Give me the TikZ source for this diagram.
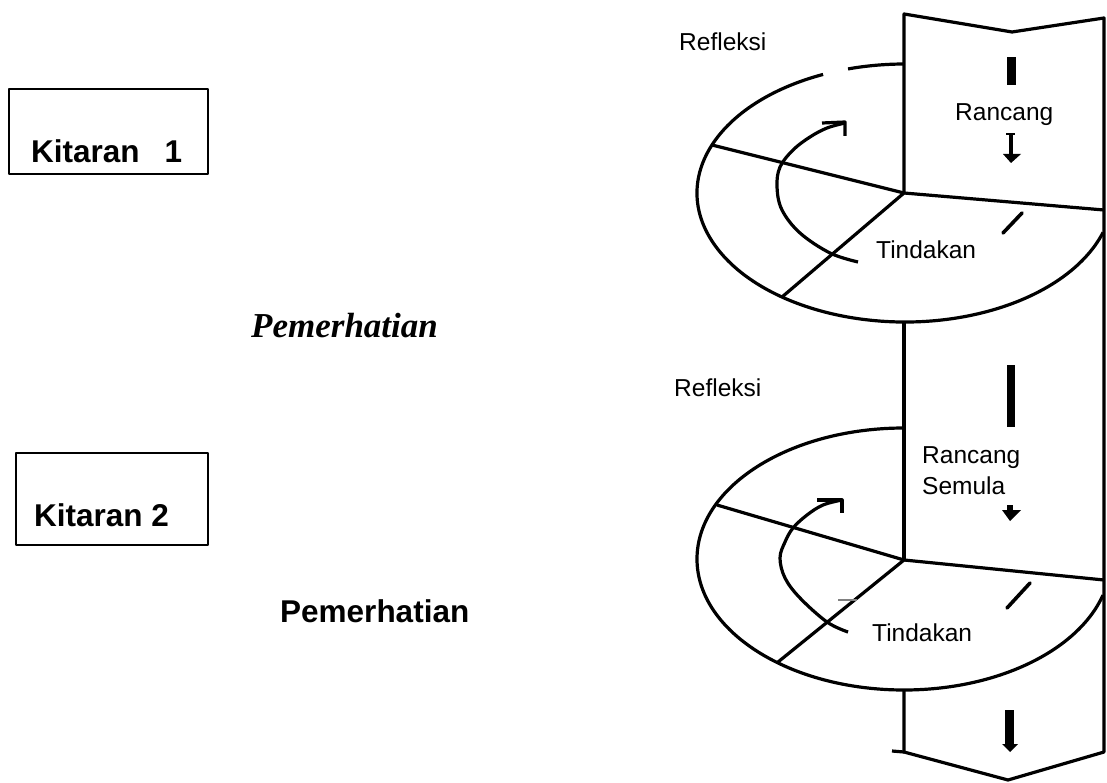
\documentclass[tikz,border=0pt]{standalone}
\usepackage{fontspec}
\setmainfont{Liberation Sans}
\newfontfamily\pemserif{Liberation Serif}
\begin{document}
\begin{tikzpicture}[x=1pt,y=-1pt,line join=round,
  edge/.style={line width=3.2pt},
  lbl/.style={inner sep=0pt,anchor=base west,font=\fontsize{24.5}{28}\selectfont},
  big/.style={inner sep=0pt,anchor=base west,font=\fontsize{31.5}{36}\selectfont\bfseries},
  boxst/.style={draw,line width=1.9pt,inner sep=0pt},
  bar/.style={fill=black}]
\useasboundingbox (0,0) rectangle (1107,783);
% left boxes and texts
\node[boxst,minimum width=199pt,minimum height=85pt] (box1) at (108.5,131.5) {};
\node[boxst,minimum width=192pt,minimum height=92pt] (box2) at (112,499) {};
\node[big] (kit1) at (31,163) {Kitaran\hspace{25pt}1};
\node[big] (kit2) at (34,526) {Kitaran 2};
\node[inner sep=0pt,anchor=base west,font=\pemserif\fontsize{35}{40}\selectfont\bfseries\itshape] (pem1) at (251,337) {Pemerhatian};
\node[big] (pem2) at (280,622) {Pemerhatian};
% labels
\node[lbl] (ref1) at (679,51) {Refleksi};
\node[lbl] (ran1) at (955,121) {Rancang};
\node[lbl] (tin1) at (876,259) {Tindakan};
\node[lbl] (ref2) at (674,396) {Refleksi};
\node[lbl] (ran2) at (922,463) {Rancang};
\node[lbl] (sem2) at (922,494) {Semula};
\node[lbl] (tin2) at (872,641) {Tindakan};
% centres
\coordinate (o1) at (904,193);
\coordinate (o2) at (904,560);
% band outline
\draw[edge] (o1) -- (904,14) -- (1012,32) -- (1104,18) -- (1104,752) -- (1008,780) -- (904,752) -- (904,690);
\draw[edge] (892,751) -- (904,752);
\draw[edge] (904,322) -- (o2);
% ellipse 1
\draw[edge] (905,193) ++(113.2:208pt and 129pt) arc[start angle=113.2,end angle=342.2,x radius=208pt,y radius=129pt];
\draw[edge] (905,193) ++(90.3:208pt and 129pt) arc[start angle=90.3,end angle=105.9,x radius=208pt,y radius=129pt];
\draw[edge] (712,145) -- (o1) -- (1104,210);
\draw[edge] (o1) -- (782,297);
% ellipse 2
\draw[edge] (904,559) ++(90:207pt and 131pt) arc[start angle=90,end angle=344,x radius=207pt,y radius=131pt];
\draw[edge] (717,505) -- (o2) -- (1104,580);
\draw[edge] (o2) -- (778,662);
% curved arrows
\draw[edge] plot[smooth,tension=0.6] coordinates {(858,262) (830,253) (800,233) (782,210) (777,187) (780,167) (793,150) (810,137) (827,128) (845,123)};
\draw[edge] (822,123) -- (845,122) -- (845,136);
\draw[edge] plot[smooth,tension=0.6] coordinates {(848,632) (827,622) (800,598) (785,578) (780,558) (785,542) (793,528) (807,515) (823,505) (842,500)};
\draw[edge] (817,500) -- (842,500) -- (842,513);
\draw[gray,line width=1.6pt] (838,600) -- (857,600);
% marks in band
\fill[bar] (1007,57) rectangle (1016,85);
\draw[line width=2.4pt] (1006,134) -- (1015,134);
\draw[line width=3.6pt] (1011,134) -- (1011,156);
\fill[bar] (1003,154) -- (1021,154) -- (1011,163) -- cycle;
\draw[line width=3.6pt,line cap=round] (1003,233) -- (1022,213);
\fill[bar] (1007,365) rectangle (1015,427);
\fill[bar] (1007,505) rectangle (1013,512);
\fill[bar] (1002,510) -- (1021,510) -- (1010,521) -- cycle;
\draw[line width=3.6pt,line cap=round] (1007,608) -- (1030,583);
\fill[bar] (1005,710) rectangle (1014,746);
\fill[bar] (1002,744) -- (1018,744) -- (1010,752) -- cycle;
\end{tikzpicture}
\end{document}
